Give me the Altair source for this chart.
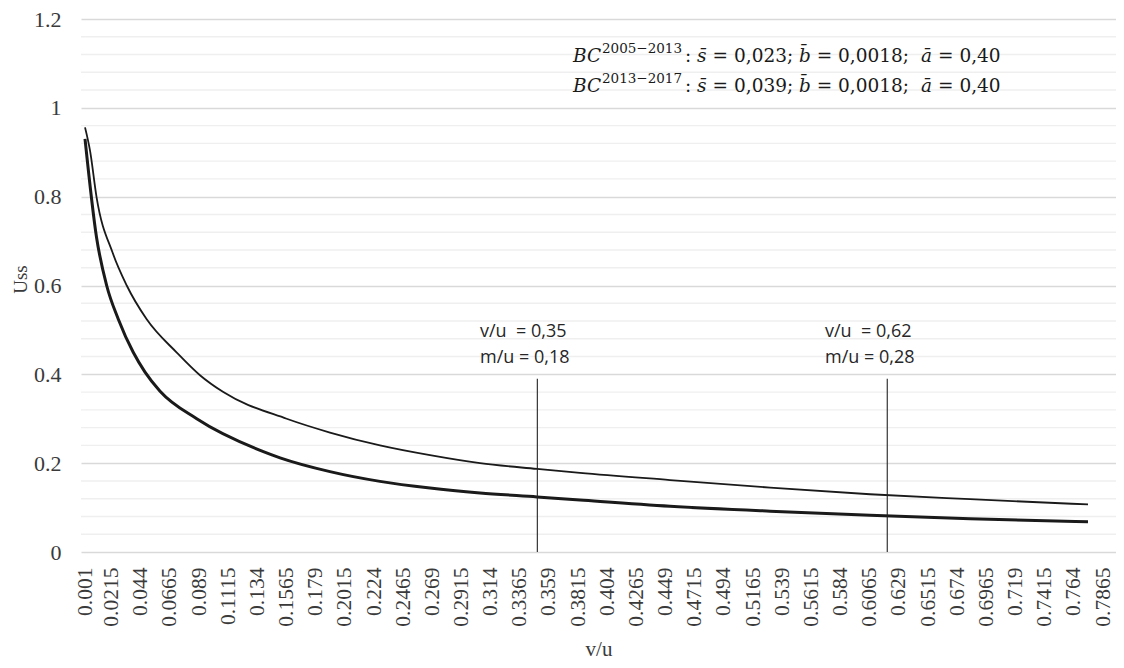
import altair as alt
import pandas as pd

# ---- data ----
vu_upper = [0.001, 0.0049, 0.0099, 0.0224, 0.0332, 0.0486, 0.0718, 0.0897, 0.1077,
            0.1566, 0.1900, 0.2286, 0.2672, 0.3058, 0.3498, 0.3829, 0.4524, 0.5296,
            0.6067, 0.6839, 0.7749]
uss_upper = [0.956, 0.903, 0.799, 0.673, 0.600, 0.524, 0.449, 0.398, 0.360,
             0.300, 0.269, 0.240, 0.218, 0.200, 0.187, 0.178, 0.162, 0.145,
             0.130, 0.119, 0.107]

vu_lower = [0.001, 0.0099, 0.0177, 0.0267, 0.0383, 0.0473, 0.0589, 0.0872, 0.1386,
            0.1515, 0.1900, 0.2286, 0.2672, 0.3058, 0.3498, 0.3829, 0.4524, 0.5296,
            0.6067, 0.6839, 0.7749]
uss_lower = [0.930, 0.708, 0.600, 0.524, 0.449, 0.405, 0.362, 0.300, 0.226,
             0.212, 0.181, 0.159, 0.144, 0.133, 0.124, 0.117, 0.103, 0.092,
             0.083, 0.075, 0.068]

x_tick_labels = [0.001, 0.0215, 0.044, 0.0665, 0.089, 0.1115, 0.134, 0.1565, 0.179,
                 0.2015, 0.224, 0.2465, 0.269, 0.2915, 0.314, 0.3365, 0.359, 0.3815,
                 0.404, 0.4265, 0.449, 0.4715, 0.494, 0.5165, 0.539, 0.5615, 0.584,
                 0.6065, 0.629, 0.6515, 0.674, 0.6965, 0.719, 0.7415, 0.764, 0.7865]
y_major = [0, 0.2, 0.4, 0.6, 0.8, 1, 1.2]
y_minor = [0.04, 0.08, 0.12, 0.16, 0.24, 0.28, 0.32, 0.36, 0.44, 0.48, 0.52, 0.56,
           0.64, 0.68, 0.72, 0.76, 0.84, 0.88, 0.92, 0.96, 1.04, 1.08, 1.12, 1.16]

marker_vu = [0.35, 0.62]
marker_top = [0.39, 0.39]
marker_text1 = ["v/u\u00a0 = 0,35", "v/u\u00a0 = 0,62"]
marker_text2 = ["m/u = 0,18", "m/u = 0,28"]

legend_sup = ["2005\u22122013", "2013\u22122017"]
legend_s = ["0,023", "0,039"]
legend_b = ["0,0018", "0,0018"]
legend_a = ["0,40", "0,40"]

# ---- layout ----
TOP = 11
W, H = 1035, 533
PLOT_LEFT = 8 + 73
PLOT_TOP = 8 + TOP
XDOM = [-0.0021, 0.7965]
YMAX = 1.2
SERIF = "Liberation Serif"
MATH = "DejaVu Serif"
SANS = "Open Sans"
LINE = "#1a1a1a"
AXC = "#3a3a3a"

xs = alt.Scale(domain=XDOM, nice=False, zero=False)
ys = alt.Scale(domain=[0, YMAX], nice=False, zero=True)

x_axis = alt.Axis(values=x_tick_labels, labelExpr="'' + datum.value",
                  labelAngle=-90, labelFont=SERIF, labelFontSize=21.5,
                  labelColor=AXC, labelPadding=15, ticks=False,
                  domain=False, grid=False, labelOverlap=False,
                  titleFont=SERIF, titleFontSize=21, titleFontWeight="normal",
                  titleColor=AXC, titleY=103, titleBaseline="alphabetic")
y_axis = alt.Axis(values=y_major, labelExpr="'' + datum.value",
                  labelFont=SERIF, labelFontSize=22,
                  labelColor=AXC, labelPadding=20, ticks=False,
                  domain=False, grid=True, gridColor="#d9d9d9",
                  gridWidth=1.4, titleFont=SERIF, titleFontSize=19,
                  titleFontWeight="normal", titleColor=AXC,
                  titleAngle=-90, titleX=-55, titleY=279 - PLOT_TOP,
                  titleAlign="center", titleBaseline="alphabetic")


def X(field="vu"):
    return alt.X(f"{field}:Q", scale=xs, title="v/u", axis=x_axis)


def Y(field="uss"):
    return alt.Y(f"{field}:Q", scale=ys, title="Uss", axis=y_axis)


def page_x_to_vu(x):
    return XDOM[0] + (x - PLOT_LEFT) / W * (XDOM[1] - XDOM[0])


def page_y_to_uss(y):
    return YMAX * (1 - (y - PLOT_TOP) / H)


upper = pd.DataFrame({"vu": vu_upper, "uss": uss_upper})
lower = pd.DataFrame({"vu": vu_lower, "uss": uss_lower})

minor = alt.Chart(pd.DataFrame({"uss": y_minor})).mark_rule(
    color="#efefef", strokeWidth=1.4
).encode(y=Y())

line_upper = alt.Chart(upper).mark_line(
    color=LINE, strokeWidth=1.8, interpolate="monotone"
).encode(x=X(), y=Y())

line_lower = alt.Chart(lower).mark_line(
    color=LINE, strokeWidth=3, interpolate="monotone"
).encode(x=X(), y=Y())

markers = pd.DataFrame({"vu": marker_vu, "uss": [0, 0], "uss2": marker_top})
rules = alt.Chart(markers).mark_rule(color="#222222", strokeWidth=1.1).encode(
    x=X(), y=Y(), y2="uss2:Q"
)

mtext = pd.DataFrame({
    "vu": [page_x_to_vu(480), page_x_to_vu(825)] * 2,
    "uss": [page_y_to_uss(337)] * 2 + [page_y_to_uss(363)] * 2,
    "t": marker_text1 + marker_text2,
})
marker_labels = alt.Chart(mtext).mark_text(
    font=SANS, fontSize=18, align="left", baseline="alphabetic", color="#262626"
).encode(x=X(), y=Y(), text="t:N")

# formula annotation (page coordinates of each piece)
rows = []
for i in range(2):
    by = 62 + 30 * i
    rows += [
        {"px": 573, "py": by, "t": "BC", "k": "it"},
        {"px": 602, "py": by - 9, "t": legend_sup[i], "k": "sup"},
        {"px": 685, "py": by, "t": ":", "k": "up"},
        {"px": 697, "py": by, "t": "s\u0304", "k": "it"},
        {"px": 712.6, "py": by, "t": "= " + legend_s[i] + ";", "k": "up"},
        {"px": 799, "py": by, "t": "b\u0304", "k": "it"},
        {"px": 816.7, "py": by, "t": "= " + legend_b[i] + ";", "k": "up"},
        {"px": 921, "py": by, "t": "\u0101", "k": "it"},
        {"px": 938, "py": by, "t": "= " + legend_a[i], "k": "up"},
    ]
anno = pd.DataFrame(rows)
anno["vu"] = anno["px"].map(page_x_to_vu)
anno["uss"] = anno["py"].map(page_y_to_uss)


def anno_layer(kind, size, style):
    return alt.Chart(anno).transform_filter(alt.datum.k == kind).mark_text(
        font=MATH, fontSize=size, fontStyle=style, align="left",
        baseline="alphabetic", color="#1a1a1a"
    ).encode(x=X(), y=Y(), text="t:N")


chart = alt.layer(
    minor, line_upper, line_lower, rules, marker_labels,
    anno_layer("it", 18.5, "italic"), anno_layer("up", 18.5, "normal"),
    anno_layer("sup", 13.5, "normal"),
).properties(
    width=W, height=H,
    autosize=alt.AutoSizeParams(type="none"),
    padding={"left": 73, "top": TOP, "right": 0, "bottom": 652 - TOP - H},
    background="white",
).configure_view(stroke=None)

chart.save("out.html", embed_options={"renderer": "svg", "actions": False})
